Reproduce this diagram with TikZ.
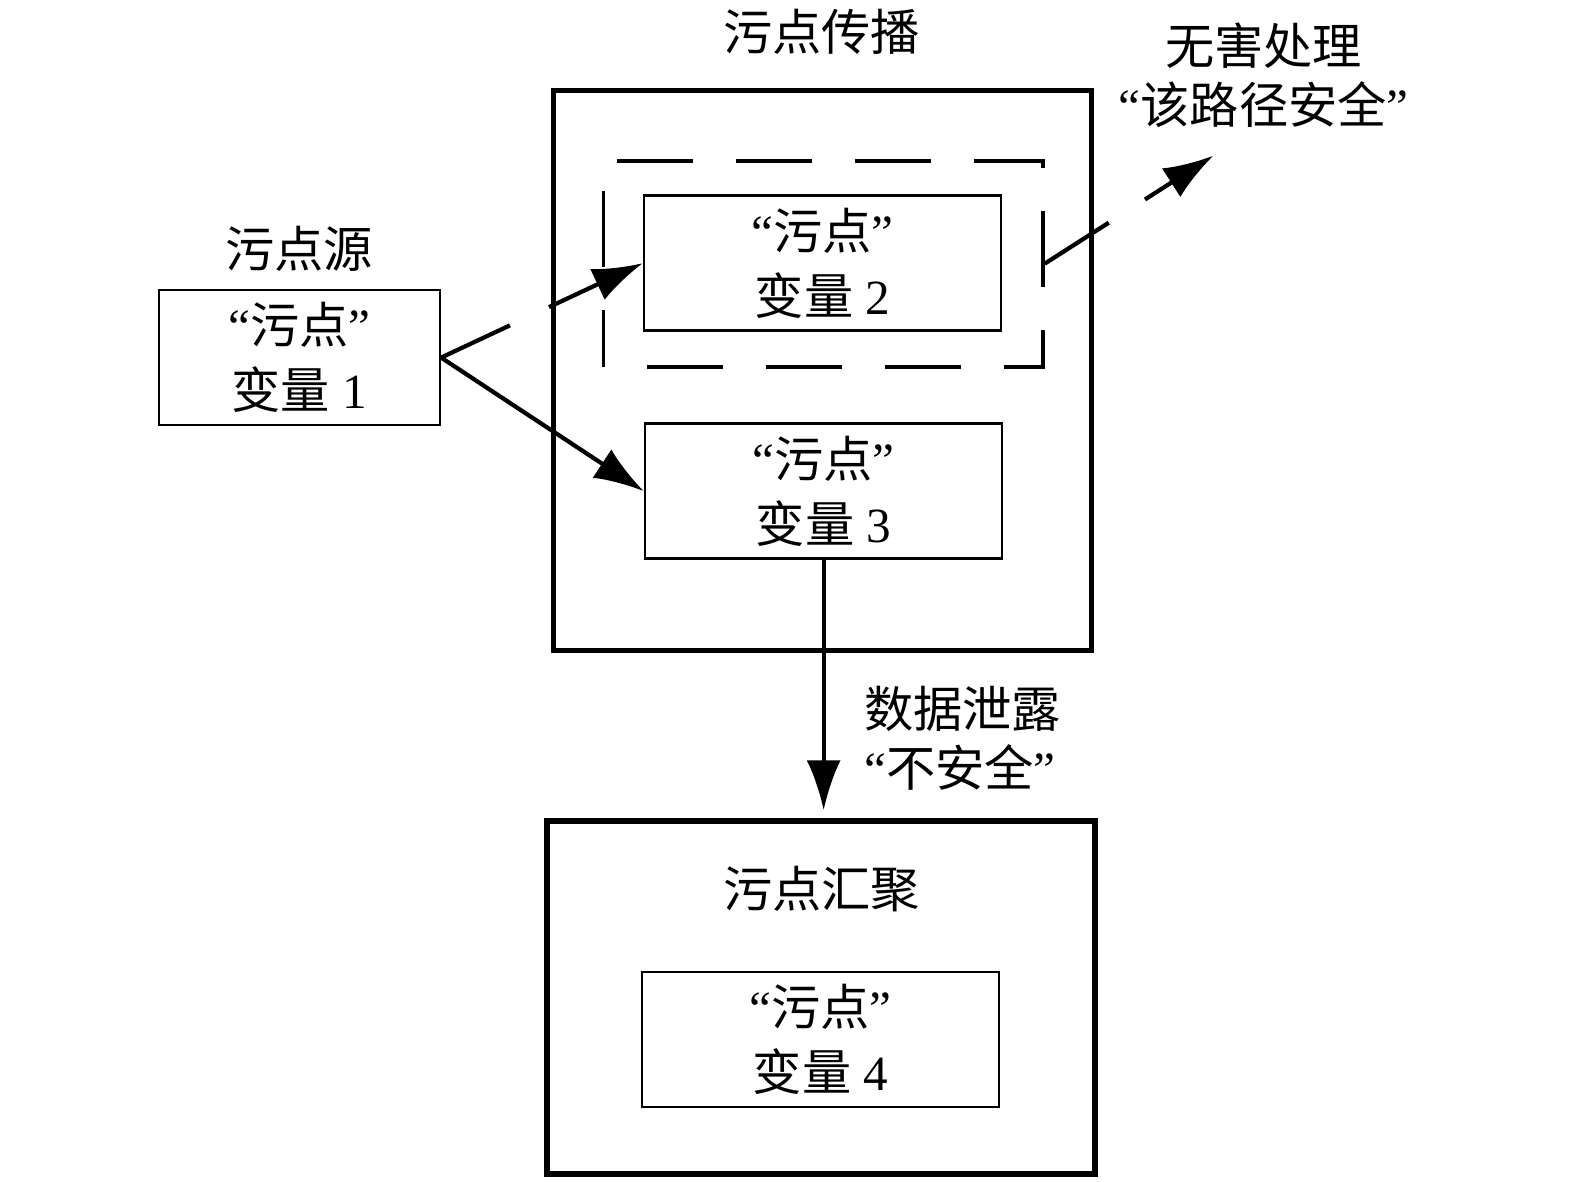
\documentclass[tikz,border=0pt]{standalone}
\usepackage{fontspec}
\setmainfont{Liberation Serif}
\newfontfamily\cjk{Noto Sans CJK SC}
\usetikzlibrary{arrows,arrows.meta,calc}
\usetikzlibrary{positioning}
\newcommand{\zh}[1]{{\cjk #1}}

\begin{document}
\begin{tikzpicture}[x=0.010045cm,y=-0.010045cm,font=\fontsize{14}{18.5}\selectfont]
% box styles
\tikzstyle{var}=[rectangle,draw=black,line width=0.7pt,minimum height=1.35cm,inner sep=0pt,align=center]
\tikzstyle{stage}=[rectangle,draw=black,line width=1.5pt,inner sep=0pt]
\tikzstyle{flow}=[->,>={Latex[length=0.5cm,width=0.34cm]},line width=1.2pt]
\tikzstyle{broken}=[dash pattern=on 0.76cm off 0.43cm on 5cm off 0cm]

\useasboundingbox (0,0) rectangle (1568,1176);

% stages
\node[stage,minimum width=5.38cm,minimum height=5.6cm] (prop) at (819,369) {};
\node[stage,line width=1.7pt,minimum width=5.48cm,minimum height=3.52cm] (sink) at (817,993) {};
\node[rectangle,draw=black,line width=1.1pt,minimum width=4.39cm,minimum height=2.06cm,
      dash pattern=on 0.76cm off 0.43cm,dash phase=0.76cm] (safe) at (819.5,262.5) {};

% variables
\foreach \n/\x/\y/\w in {1/298/356/2.81, 2/819/262/3.57, 3/820/489/3.57, 4/817/1035/3.57}
\node[var,minimum width=\w cm] (V-\n) at (\x,\y) {“\zh{污点}”\\\zh{变量} \n};

% labels
\node (T-prop) at (818,32) {\zh{污点传播}};
\node (T-src) at (298,248) {\zh{污点源}};
\node (T-sink) at (818,885) {\zh{污点汇聚}};
\node[align=center,font=\fontsize{14}{17}\selectfont] (T-safe) at (1258,75) {\zh{无害处理}\\“\zh{该路径安全}”};
\node[align=left,anchor=west,font=\fontsize{14}{17}\selectfont] (T-leak) at (848,735) {\zh{数据泄露}\\“\zh{不安全}”};

% arrows
\coordinate (out) at (1208,155);
\draw[flow,broken] (V-1.east) -- (V-2.west);
\draw[flow] (V-1.east) -- (V-3.west);
\draw[flow,broken] (safe.east) -- (out);
\draw[flow,shorten >=0.08cm] (V-3.south) -- (V-3.south |- sink.north);
\end{tikzpicture}
\end{document}
